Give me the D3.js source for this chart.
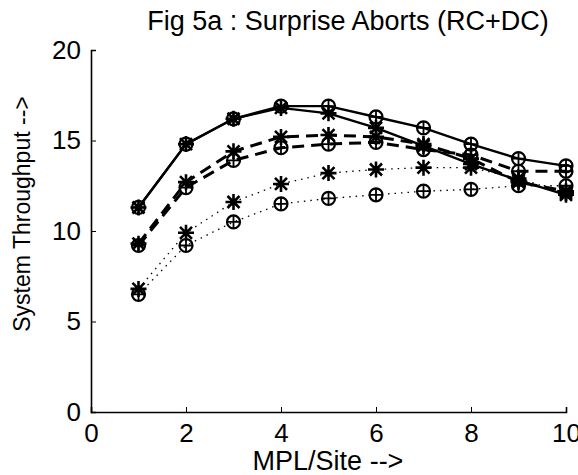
<!DOCTYPE html>
<html>
<head>
<meta charset="utf-8">
<script src="https://cdn.jsdelivr.net/npm/d3@7"></script>
<style>
  body { margin: 0; background: #fff; }
  text { font-family: "Liberation Sans", Arial, sans-serif; fill: #000; }
</style>
</head>
<body>
<div id="chart"></div>
<script>
const mpl = [1, 2, 3, 4, 5, 6, 7, 8, 9, 10];

// throughput per series
const solidCircle = [11.3, 14.8, 16.2, 16.9, 16.9, 16.3, 15.7, 14.8, 14.0, 13.6];
const solidStar   = [11.3, 14.8, 16.2, 16.8, 16.5, 15.7, 14.7, 13.7, 12.8, 12.0];
const dashCircle  = [9.2, 12.4, 13.9, 14.6, 14.8, 14.9, 14.5, 14.2, 13.3, 13.3];
const dashStar    = [9.3, 12.7, 14.4, 15.2, 15.3, 15.2, 14.8, 14.0, 12.7, 12.2];
const dotCircle   = [6.5, 9.2, 10.5, 11.5, 11.8, 12.0, 12.2, 12.3, 12.5, 12.5];
const dotStar     = [6.8, 9.9, 11.6, 12.6, 13.2, 13.4, 13.5, 13.5, 12.9, 12.1];

const xTicks = [0, 2, 4, 6, 8, 10];
const yTicks = [0, 5, 10, 15, 20];

const series = [
  { vals: dotCircle, dash: '1.5,5', w: 1.3, mark: 'circle' },
  { vals: dotStar, dash: '1.5,5', w: 1.3, mark: 'star' },
  { vals: dashCircle, dash: '12,7', w: 3, mark: 'circle' },
  { vals: dashStar, dash: '12,7', w: 3, mark: 'star' },
  { vals: solidStar, dash: null, w: 2.4, mark: 'star' },
  { vals: solidCircle, dash: null, w: 2.4, mark: 'circle' }
];

const width = 578, height = 475;
const margin = { top: 50, right: 12, bottom: 63, left: 91 };
const fontFam = '"Liberation Sans", Arial, sans-serif';

const svg = d3.select('#chart').append('svg')
  .attr('width', width)
  .attr('height', height);

const x = d3.scaleLinear().domain([0, 10]).range([margin.left, width - margin.right]);
const y = d3.scaleLinear().domain([0, 20]).range([height - margin.bottom, margin.top]);

// axes, matlab style with inward ticks
svg.append('g')
  .attr('transform', `translate(0,${y(0)})`)
  .call(d3.axisBottom(x).tickValues(xTicks).tickSize(-5).tickPadding(12))
  .call(g => g.select('.domain').attr('stroke-width', 1.6))
  .call(g => g.selectAll('.tick text').attr('font-size', 26).attr('font-family', fontFam));

svg.append('g')
  .attr('transform', `translate(${x(0)},0)`)
  .call(d3.axisLeft(y).tickValues(yTicks).tickSize(-5).tickPadding(10))
  .call(g => g.select('.domain').attr('stroke-width', 1.6))
  .call(g => g.selectAll('.tick text').attr('font-size', 26).attr('font-family', fontFam));

const line = d3.line().x((d, i) => x(mpl[i])).y(d => y(d));

series.forEach(s => {
  svg.append('path')
    .datum(s.vals)
    .attr('d', line)
    .attr('fill', 'none')
    .attr('stroke', '#000')
    .attr('stroke-width', s.w)
    .attr('stroke-dasharray', s.dash);

  const g = svg.append('g').selectAll('g')
    .data(s.vals)
    .enter().append('g')
    .attr('transform', (d, i) => `translate(${x(mpl[i])},${y(d)})`)
    .attr('stroke', '#000')
    .attr('fill', 'none');

  if (s.mark === 'circle') {
    g.append('circle').attr('r', 6.5).attr('stroke-width', 2.2);
    g.append('path').attr('d', 'M0,-6.5V6.5M-6.5,0H6.5').attr('stroke-width', 1.8);
  } else {
    g.append('path')
      .attr('d', 'M-8,0H8M0,-8V8M-6,-6L6,6M-6,6L6,-6')
      .attr('stroke-width', 2.6);
  }
});

svg.append('text')
  .attr('x', 348).attr('y', 30)
  .attr('text-anchor', 'middle')
  .attr('font-size', 27)
  .text('Fig 5a : Surprise Aborts (RC+DC)');

svg.append('text')
  .attr('x', 328).attr('y', 470)
  .attr('text-anchor', 'middle')
  .attr('font-size', 27)
  .text('MPL/Site -->');

svg.append('text')
  .attr('transform', 'translate(30,214) rotate(-90)')
  .attr('text-anchor', 'middle')
  .attr('font-size', 23)
  .text('System Throughput -->');
</script>
</body>
</html>
